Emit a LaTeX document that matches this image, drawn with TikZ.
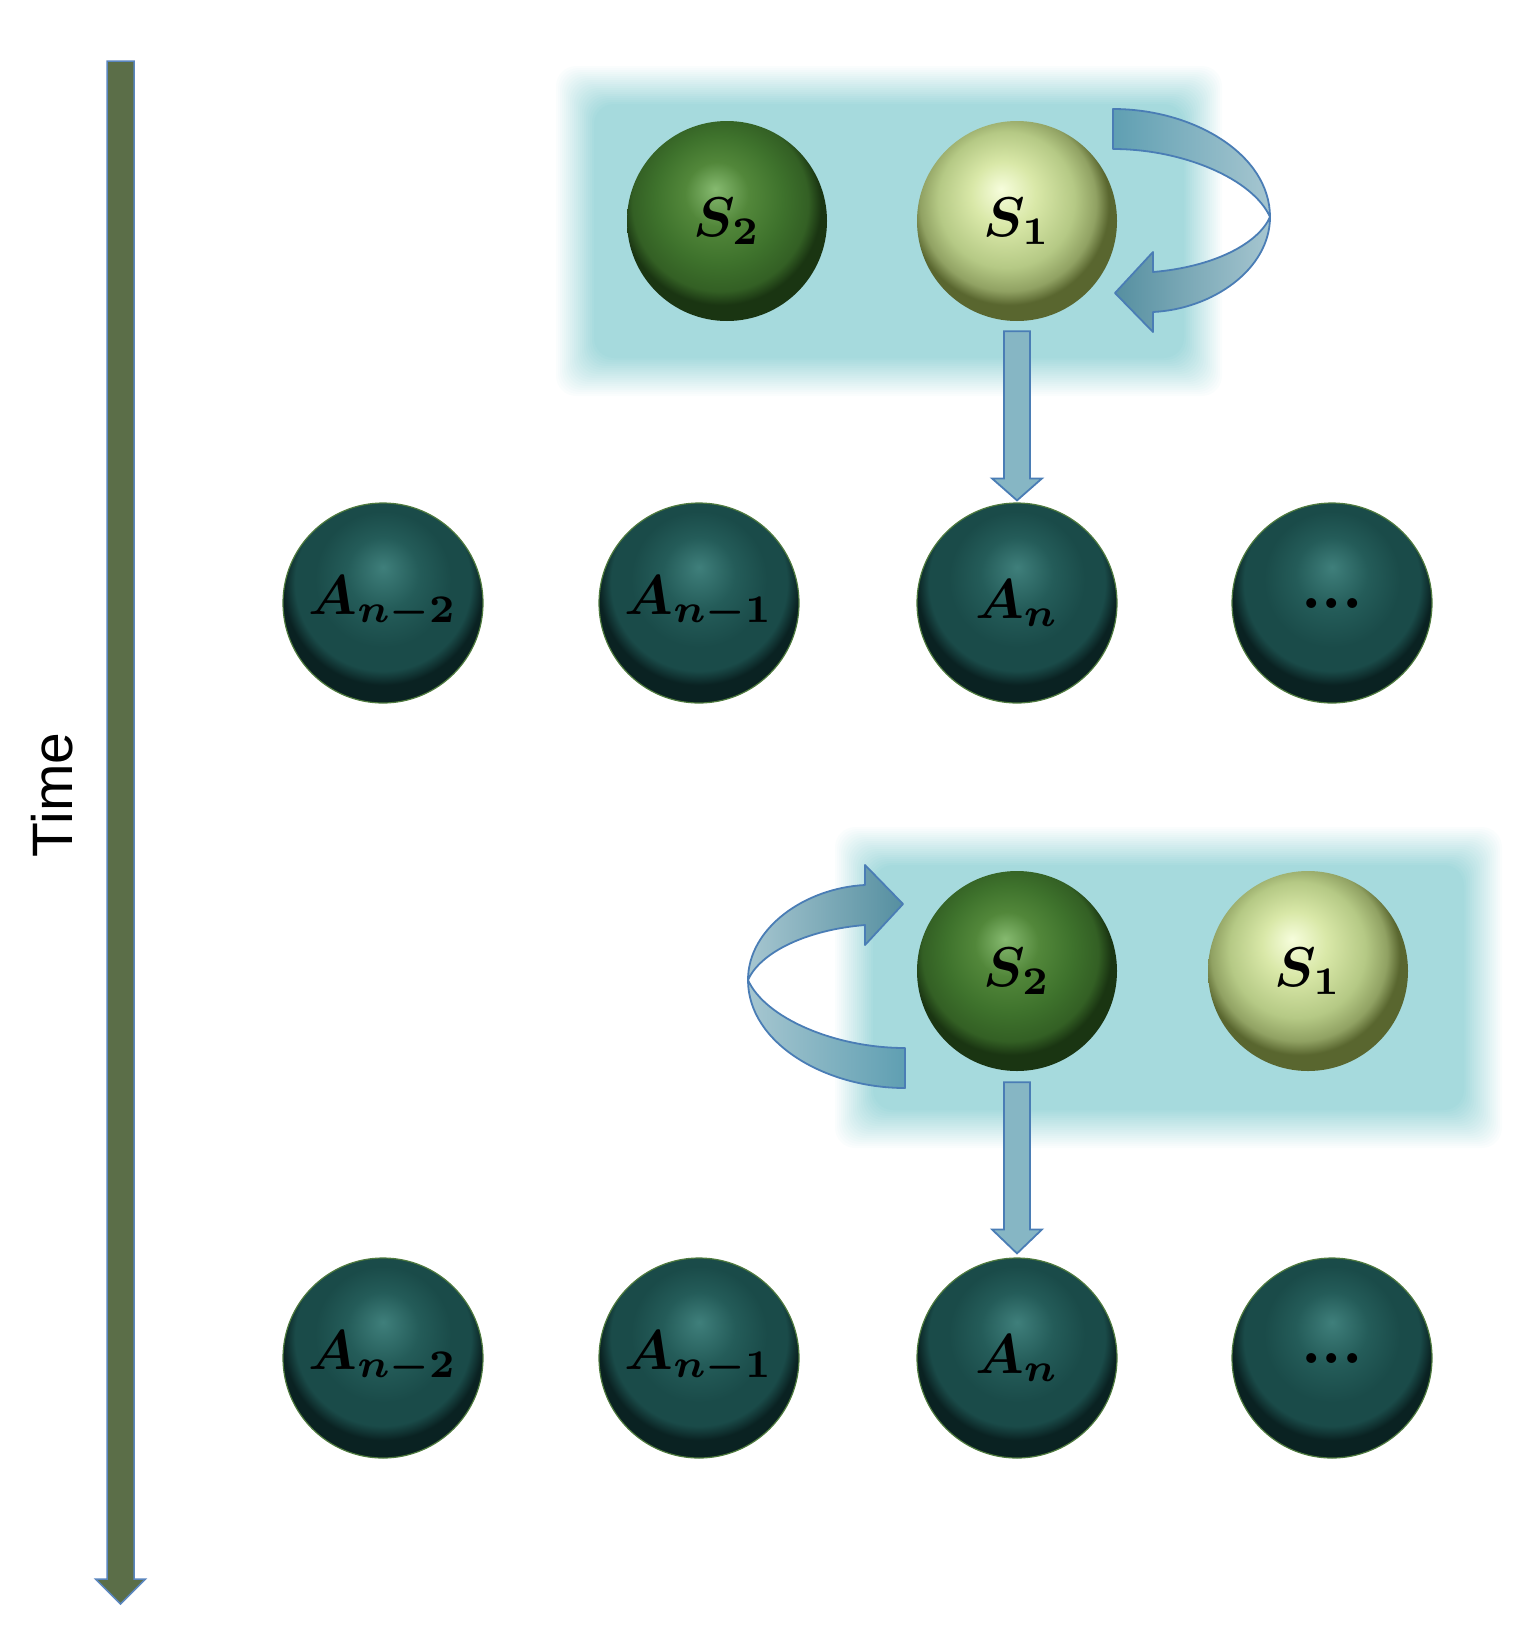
\documentclass[tikz,border=0pt]{standalone}
\usepackage{graphicx}
\usepackage{amsmath}
\usepackage[no-math]{fontspec}
\newfontfamily\timefont{Liberation Sans}
\usetikzlibrary{calc}

\definecolor{boxcol}{HTML}{A6DADD}
\definecolor{arrfill}{HTML}{86B6C4}
\definecolor{arrdraw}{HTML}{4A7DB5}
\definecolor{timecol}{HTML}{5B6E48}
\definecolor{timedraw}{HTML}{5A86BE}
\definecolor{aRim}{HTML}{4E7A3E}
\definecolor{aHi}{HTML}{3F7F7B}
\definecolor{aMid}{HTML}{245C59}
\definecolor{aBase}{HTML}{1A4B49}
\definecolor{aEdge}{HTML}{0A2222}
\definecolor{gHi}{HTML}{86BA70}
\definecolor{gMid}{HTML}{52873A}
\definecolor{gBase}{HTML}{3E722C}
\definecolor{gEdge}{HTML}{1A3512}
\definecolor{lHi}{HTML}{F6FDDC}
\definecolor{lMid}{HTML}{D9E8A8}
\definecolor{lBase}{HTML}{B5C985}
\definecolor{lEdge}{HTML}{59662F}
\definecolor{bandDark}{HTML}{5F9FB2}
\definecolor{bandLight}{HTML}{A6C6D0}

\pgfdeclareradialshading{ashade}{\pgfpoint{0bp}{9bp}}{color(0bp)=(aHi); color(9bp)=(aMid); color(17bp)=(aBase); color(22bp)=(aBase); color(25bp)=(aEdge); color(50bp)=(aEdge)}
\pgfdeclareradialshading{gshade}{\pgfpoint{-3bp}{8bp}}{color(0bp)=(gHi); color(8bp)=(gMid); color(16bp)=(gBase); color(22bp)=(gBase!70!gEdge); color(25bp)=(gEdge); color(50bp)=(gEdge)}
\pgfdeclareradialshading{lshade}{\pgfpoint{-4bp}{8bp}}{color(0bp)=(lHi); color(8bp)=(lMid); color(17bp)=(lBase); color(22bp)=(lBase!60!lEdge); color(25bp)=(lEdge); color(50bp)=(lEdge)}

\newcommand\biglbl[1]{\scalebox{5.6}{$\boldsymbol{#1}$}}
\newcommand\bigdots{\scalebox{6.4}{\textbf{...}}}

\tikzset{
  sphbase/.style={circle, minimum size=200pt, inner sep=0pt, text=black},
  asph/.style={sphbase, shade, shading=ashade, draw=aRim, line width=1.2pt},
  dsph/.style={sphbase, shade, shading=gshade},
  lsph/.style={sphbase, shade, shading=lshade},
  blockarrow/.style={fill=arrfill, draw=arrdraw, line width=1.8pt, line join=miter},
  bandstyle/.style={draw=arrdraw, line width=1.8pt, line join=round},
  timearrow/.style={fill=timecol, draw=timedraw, line width=1.5pt, line join=miter},
  timelabel/.style={rotate=90, font=\timefont\fontsize{57}{60}\selectfont, text=black}
}

\begin{document}
\begin{tikzpicture}[x=1pt,y=-1pt]
\useasboundingbox (0,0) rectangle (1532,1636);

% soft-edged background boxes
\foreach \xa/\ya/\xb/\yb in {576/86/1202/376, 855/847/1482/1128}{
  \foreach \k in {1,...,20}{
    \pgfmathsetmacro\op{1/(21-\k)}
    \pgfmathsetmacro\xl{\xa+(\k-1)*2-20}
    \pgfmathsetmacro\yl{\ya+(\k-1)*2-20}
    \pgfmathsetmacro\xr{\xb-(\k-1)*2+20}
    \pgfmathsetmacro\yr{\yb-(\k-1)*2+20}
    \fill[boxcol, fill opacity=\op, rounded corners=20pt] (\xl,\yl) rectangle (\xr,\yr);
  }
}

% time axis
\coordinate (ttop) at (120.5,61);
\coordinate (tbot) at (120.5,1604);
\draw[timearrow] ($(ttop)+(-13.5,0)$) -- ($(ttop)+(13.5,0)$) -- ($(tbot)+(13.5,-25)$)
  -- ($(tbot)+(25,-25)$) -- (tbot) -- ($(tbot)+(-25,-25)$) -- ($(tbot)+(-13.5,-25)$) -- cycle;
\node[timelabel] (timelbl) at (52,795) {Time};

% top group
\node[dsph] (ts2) at (727,221) {\biglbl{S_2}};
\node[lsph] (ts1) at (1017,221) {\biglbl{S_1}};
\node[asph] (ta2) at (383,603) {\biglbl{A_{n-2}}};
\node[asph] (ta1) at (699,603) {\biglbl{A_{n-1}}};
\node[asph] (tan) at (1017,603) {\biglbl{A_{n}}};
\node[asph] (tdots) at (1332,603) {\bigdots};

% bottom group
\node[dsph] (bs2) at (1017,971) {\biglbl{S_2}};
\node[lsph] (bs1) at (1308,971) {\biglbl{S_1}};
\node[asph] (ba2) at (383,1358) {\biglbl{A_{n-2}}};
\node[asph] (ba1) at (699,1358) {\biglbl{A_{n-1}}};
\node[asph] (ban) at (1017,1358) {\biglbl{A_{n}}};
\node[asph] (bdots) at (1332,1358) {\bigdots};

% down block arrows
\draw[blockarrow] ($(ts1.south)+(-13,10)$) -- ($(ts1.south)+(13,10)$) -- ($(tan.north)+(13,-24)$)
  -- ($(tan.north)+(25,-24)$) -- ($(tan.north)+(0,-2)$) -- ($(tan.north)+(-25,-24)$) -- ($(tan.north)+(-13,-24)$) -- cycle;
\draw[blockarrow] ($(bs2.south)+(-13,11)$) -- ($(bs2.south)+(13,11)$) -- ($(ban.north)+(13,-28)$)
  -- ($(ban.north)+(25,-28)$) -- ($(ban.north)+(0,-4)$) -- ($(ban.north)+(-25,-28)$) -- ($(ban.north)+(-13,-28)$) -- cycle;

% curved arrow around top S1
\draw[bandstyle, left color=bandDark, right color=bandLight]
  (1113,109) .. controls (1193,109) and (1270,154) .. (1270,217)
  .. controls (1253,179) and (1183,149) .. (1113,149) -- cycle;
\draw[bandstyle, left color=bandDark!90!black, right color=bandLight]
  (1270,217) .. controls (1270,269) and (1213,309) .. (1153,312)
  -- (1153,332) -- (1115,293) -- (1153,252) -- (1153,272)
  .. controls (1213,267) and (1258,244) .. (1270,217) -- cycle;

% curved arrow around bottom S2
\draw[bandstyle, left color=bandLight, right color=bandDark]
  (905,1088) .. controls (825,1088) and (748,1043) .. (748,980)
  .. controls (765,1018) and (835,1048) .. (905,1048) -- cycle;
\draw[bandstyle, left color=bandLight, right color=bandDark!90!black]
  (748,980) .. controls (748,928) and (805,888) .. (865,885)
  -- (865,865) -- (903,904) -- (865,945) -- (865,925)
  .. controls (805,930) and (760,953) .. (748,980) -- cycle;
\end{tikzpicture}
\end{document}
